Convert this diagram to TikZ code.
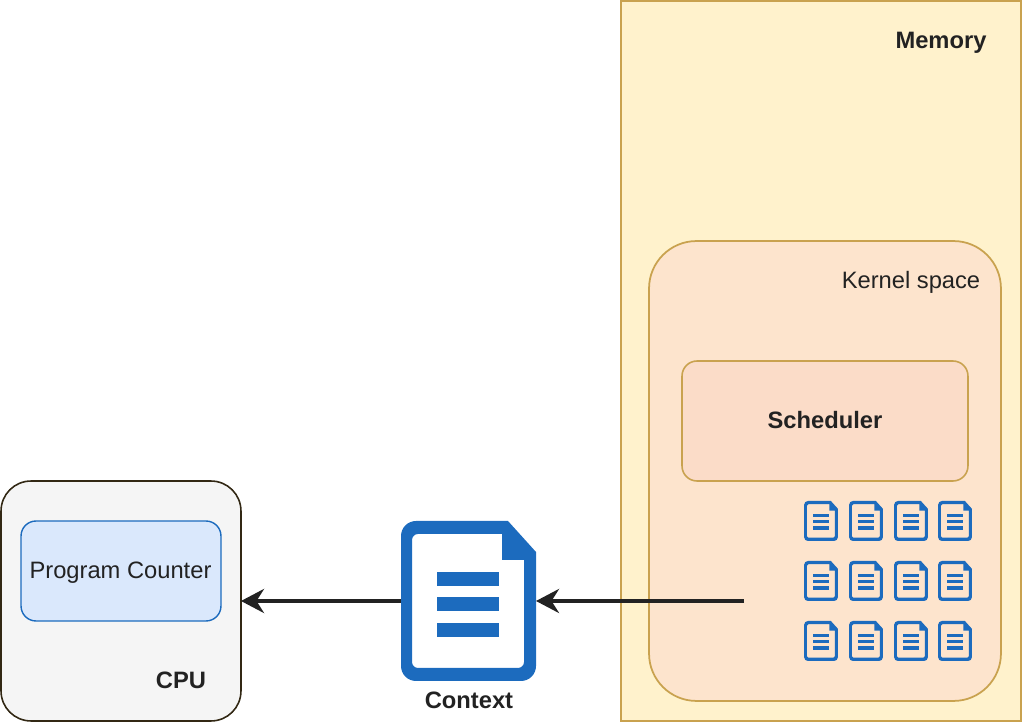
\documentclass[tikz,border=0pt]{standalone}
\usepackage{fontspec}
\setmainfont{Liberation Sans}
\usepackage{tikz}
\usetikzlibrary{arrows.meta}
\definecolor{docblue}{HTML}{1C6BBE}
\definecolor{tan}{HTML}{C9A24F}
\definecolor{ink}{HTML}{222222}
\tikzset{>={Stealth[length = 0.46cm, width = 0.48cm]}}
\tikzset{
  box/.style = {draw = #1, outer sep = 0, inner sep = 0},
  label/.style = {inner sep = 0, text = ink, font = \fontsize{13.5}{16}\selectfont},
  boldlabel/.style = {label, font = \fontsize{13.5}{16}\selectfont\bfseries},
  pics/docicon/.style = {code = {
    \begin{scope}[scale = #1]
    \fill[docblue, even odd rule]
      (-20, -80) -- (39.5, -80) -- (67.5, -49) -- (67.5, 0)
      [rounded corners = 0.3cm*#1] -- (67.5, 80) -- (-67.5, 80) -- (-67.5, -80) -- cycle
      [sharp corners] (-20, -67) -- (33.5, -67) -- (33.5, -41) -- (55.5, -41) -- (55.5, 0)
      [rounded corners = 0.12cm*#1] -- (55.5, 67) -- (-56.5, 67) -- (-56.5, -67) -- cycle;
    \foreach \bar in {-29, -4, 22} {
      \fill[docblue] (-31.5, \bar) rectangle (30.5, \bar + 14);
    }
    \end{scope}
  }}
}

\begin{document}
\begin{tikzpicture}[x = 0.02cm, y = -0.02cm]
\useasboundingbox (0, 0) rectangle (1022, 722);
% memory side
\node[box = tan, fill = {rgb,255:red,255;green,242;blue,204}, line width = 1.2pt, minimum width = 8cm, minimum height = 14.4cm] (memory) at (821, 361) {};
\node[box = tan, fill = {rgb,255:red,253;green,228;blue,205}, line width = 1pt, rounded corners = 0.95cm, minimum width = 7.04cm, minimum height = 9.2cm] (kernel) at (825, 471) {};
\node[box = tan, fill = {rgb,255:red,251;green,220;blue,200}, line width = 0.9pt, rounded corners = 0.3cm, minimum width = 5.72cm, minimum height = 2.4cm] (scheduler) at (825, 421) {};
\node[boldlabel] (schedulerlabel) at (825, 420) {Scheduler};
\node[boldlabel] (memorylabel) at (941, 43) {Memory};
\node[label] (kernellabel) at (911, 282) {Kernel space};
% cpu side
\node[box = {black!75!tan}, fill = {rgb,255:red,245;green,245;blue,245}, line width = 0.9pt, rounded corners = 0.6cm, minimum width = 4.8cm, minimum height = 4.8cm] (cpu) at (121, 601) {};
\node[box = docblue, fill = {rgb,255:red,218;green,232;blue,252}, line width = 0.8pt, rounded corners = 0.3cm, minimum width = 4cm, minimum height = 2cm] (counter) at (121, 571) {};
\node[label] (counterlabel) at (120.5, 573) {Program Counter};
\node[boldlabel] (cpulabel) at (181, 680) {CPU};
% context
\node[inner sep = 0, outer sep = 0, minimum width = 2.7cm, minimum height = 3.2cm] (context) at (468.5, 601) {};
\pic at (context) {docicon = 1};
\node[boldlabel] (contextlabel) at (469, 700) {Context};
% saved contexts
\foreach \i/\px in {1/821, 2/866, 3/911, 4/955} {
  \foreach \j/\py in {1/521, 2/581, 3/641} {
    \pic at (\px, \py) {docicon = 0.25};
  }
}
\coordinate (store) at (744, 601);
\draw[->, ink, line width = 2.2pt] (store) -- (context);
\draw[->, ink, line width = 2.2pt] (context) -- (cpu);
\end{tikzpicture}
\end{document}
